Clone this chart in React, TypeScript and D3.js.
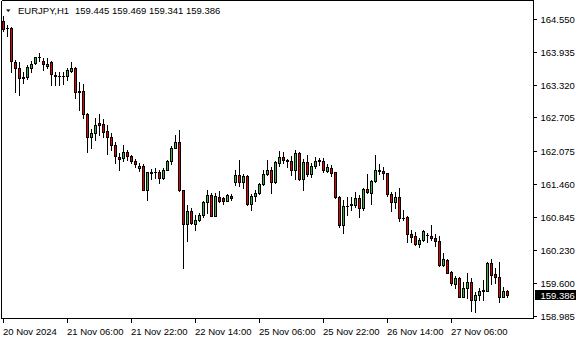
import React from "react";
import * as d3 from "d3";

const symbolLabel = "EURJPY,H1";

const opens = [
  164.513, 164.381, 164.372, 163.744, 163.623, 163.445, 163.454, 163.641, 163.726, 163.829,
  163.772, 163.660, 163.744, 163.510, 163.482, 163.476, 163.473, 163.585, 163.641, 163.192,
  163.192, 162.779, 162.348, 162.423, 162.592, 162.583, 162.452, 162.330, 162.180, 161.964,
  161.946, 162.058, 161.974, 161.889, 161.758, 161.796, 161.346, 161.664, 161.674, 161.683,
  161.571, 161.730, 161.880, 162.142, 162.251, 161.337, 160.709, 160.953, 160.709, 160.775,
  160.878, 161.112, 161.252, 160.859, 161.224, 161.187, 161.149, 161.234, 161.505, 161.627,
  161.505, 161.608, 161.084, 161.234, 161.284, 161.458, 161.646, 161.730, 161.487, 161.861,
  161.955, 161.899, 161.895, 161.721, 162.034, 161.546, 161.876, 161.646, 161.801, 161.899,
  161.895, 161.711, 161.753, 161.678, 161.209, 160.690, 161.046, 161.065, 161.065, 161.191,
  161.003, 161.359, 161.299, 161.515, 161.715, 161.702, 161.659, 161.265, 161.127, 161.209,
  160.827, 160.846, 160.516, 160.484, 160.328, 160.409, 160.512, 160.484, 160.441, 160.381,
  159.941, 160.034, 159.815, 159.585, 159.691, 159.347, 159.504, 159.628, 159.285, 159.379,
  159.448, 159.459, 159.973, 159.772, 159.710, 159.347, 159.445,
];
const highs = [
  164.606, 164.438, 164.391, 163.782, 163.744, 163.557, 163.679, 163.754, 163.847, 163.904,
  163.819, 163.810, 163.763, 163.557, 163.566, 163.566, 163.632, 163.744, 163.651, 163.370,
  163.341, 162.789, 162.498, 162.686, 162.779, 162.676, 162.564, 162.405, 162.245, 162.039,
  162.189, 162.095, 162.002, 161.936, 161.843, 161.833, 161.683, 161.739, 161.749, 161.721,
  161.749, 161.917, 162.170, 162.377, 162.470, 161.346, 161.065, 161.009, 160.878, 160.906,
  161.140, 161.355, 161.299, 161.299, 161.318, 161.224, 161.271, 161.280, 161.730, 161.908,
  161.655, 161.618, 161.280, 161.346, 161.472, 161.730, 161.908, 161.768, 161.880, 162.086,
  162.067, 161.936, 161.974, 162.095, 162.067, 161.936, 162.002, 161.846, 161.959, 161.940,
  161.940, 161.833, 161.814, 161.689, 161.234, 161.159, 161.209, 161.209, 161.314, 161.252,
  161.378, 161.640, 161.533, 162.002, 161.828, 161.783, 161.664, 161.303, 161.314, 161.378,
  160.971, 160.865, 160.597, 160.565, 160.441, 160.597, 160.535, 160.690, 160.522, 160.475,
  160.160, 160.048, 159.834, 159.735, 159.722, 159.628, 159.785, 159.691, 159.440, 159.504,
  159.660, 160.003, 160.048, 159.879, 160.003, 159.534, 159.469,
];
const lows = [
  164.325, 164.231, 163.557, 163.182, 163.126, 163.351, 163.435, 163.566, 163.707, 163.754,
  163.594, 163.641, 163.313, 163.313, 163.313, 163.323, 163.407, 163.557, 163.079, 162.836,
  162.695, 162.049, 162.133, 162.274, 162.377, 162.348, 162.021, 162.095, 161.852, 161.721,
  161.880, 161.908, 161.852, 161.777, 161.693, 161.337, 161.159, 161.552, 161.571, 161.477,
  161.552, 161.721, 161.833, 162.133, 161.327, 159.885, 160.381, 160.700, 160.597, 160.756,
  160.849, 160.924, 160.850, 160.850, 161.112, 161.084, 161.131, 161.159, 161.440, 161.412,
  161.383, 161.074, 160.962, 161.131, 161.271, 161.440, 161.627, 161.299, 161.477, 161.796,
  161.852, 161.786, 161.627, 161.552, 161.533, 161.337, 161.599, 161.584, 161.753, 161.814,
  161.689, 161.689, 161.608, 161.191, 160.647, 160.546, 160.878, 160.971, 161.033, 160.846,
  160.971, 161.290, 161.078, 161.502, 161.640, 161.552, 161.239, 160.953, 161.014, 160.765,
  160.784, 160.366, 160.366, 160.315, 160.284, 160.390, 160.377, 160.409, 160.297, 159.922,
  159.922, 159.791, 159.566, 159.504, 159.335, 159.335, 159.317, 159.084, 159.066, 159.285,
  159.285, 159.454, 159.585, 159.598, 159.253, 159.335, 159.341,
];
const closes = [
  164.363, 164.372, 163.754, 163.632, 163.445, 163.463, 163.651, 163.716, 163.829, 163.838,
  163.716, 163.716, 163.519, 163.473, 163.476, 163.482, 163.594, 163.641, 163.182, 163.182,
  162.770, 162.348, 162.423, 162.564, 162.555, 162.442, 162.339, 162.180, 161.974, 161.936,
  162.058, 161.974, 161.880, 161.833, 161.796, 161.355, 161.674, 161.683, 161.683, 161.571,
  161.730, 161.880, 162.142, 162.251, 161.337, 160.709, 160.958, 160.728, 160.784, 160.878,
  161.127, 161.252, 160.859, 161.234, 161.149, 161.131, 161.243, 161.187, 161.627, 161.505,
  161.608, 161.084, 161.234, 161.295, 161.458, 161.646, 161.730, 161.487, 161.876, 161.955,
  161.899, 161.895, 161.721, 162.034, 161.546, 161.876, 161.646, 161.796, 161.895, 161.895,
  161.721, 161.771, 161.670, 161.209, 160.690, 161.046, 161.041, 161.078, 161.191, 161.003,
  161.359, 161.303, 161.515, 161.721, 161.702, 161.659, 161.265, 161.127, 161.220, 160.816,
  160.821, 160.516, 160.471, 160.328, 160.409, 160.578, 160.503, 160.441, 160.390, 159.941,
  160.048, 159.796, 159.598, 159.691, 159.347, 159.504, 159.628, 159.285, 159.379, 159.459,
  159.472, 159.973, 159.753, 159.710, 159.347, 159.454, 159.386,
];

const priceTicks = [164.55, 163.935, 163.32, 162.705, 162.075, 161.46, 160.845, 160.23, 159.6, 158.985];
const priceTickLabels = ["164.550", "163.935", "163.320", "162.705", "162.075", "161.460", "160.845", "160.230", "159.600", "158.985"];

const timeLabelBars = [0, 16, 32, 48, 64, 80, 96, 112];
const timeLabels = ["20 Nov 2024", "21 Nov 06:00", "21 Nov 22:00", "22 Nov 14:00", "25 Nov 06:00", "25 Nov 22:00", "26 Nov 14:00", "27 Nov 06:00"];

const W = 580;
const H = 340;
const FONT = "'Liberation Sans', Arial, sans-serif";
const BULL = "#36b43c";
const BEAR = "#e80000";

export default function App() {
  const n = opens.length;
  const x = d3.scaleLinear().domain([0, n - 1]).range([3.5, 3.5 + 4 * (n - 1)]);
  const y = d3.scaleLinear().domain([158.985, 164.55]).range([316, 19]);

  const plotLeft = 1.5;
  const plotRight = 533.5;
  const plotTop = 0.5;
  const plotBottom = 318.5;

  const last = n - 1;
  const fmt = d3.format(".3f");
  const header = [opens[last], highs[last], lows[last], closes[last]].map(fmt).join(" ");
  const lastY = Math.round(y(closes[last]));

  return (
    <svg
      width={W}
      height={H}
      viewBox={`0 0 ${W} ${H}`}
      style={{ position: "absolute", left: 0, top: 0, background: "#fff", display: "block" }}
    >
      <rect x={0} y={0} width={W} height={H} fill="#fff" />
      {/* candles */}
      <g shapeRendering="crispEdges">
        {opens.map((o, i) => {
          const c = closes[i];
          const cx = x(i);
          const yh = Math.round(y(highs[i]));
          const yl = Math.round(y(lows[i]));
          const yt = Math.round(y(Math.max(o, c)));
          const yb = Math.round(y(Math.min(o, c)));
          const bh = yb - yt + 1;
          const col = c >= o ? BULL : BEAR;
          return (
            <g key={i}>
              <rect x={cx - 0.5} y={yh} width={1} height={yl - yh + 1} fill="#000" />
              <rect x={cx - 1.5} y={yt} width={3} height={bh} fill="#000" />
              {bh > 2 && <rect x={cx - 0.5} y={yt + 1} width={1} height={bh - 2} fill={col} />}
            </g>
          );
        })}
      </g>
      {/* frame */}
      <g shapeRendering="crispEdges" stroke="#000" strokeWidth={1} fill="none">
        <line x1={plotLeft} y1={plotTop} x2={plotLeft} y2={plotBottom} />
        <line x1={plotLeft} y1={plotTop} x2={plotRight} y2={plotTop} />
        <line x1={plotRight} y1={plotTop} x2={plotRight} y2={plotBottom} />
        <line x1={plotLeft} y1={plotBottom} x2={plotRight} y2={plotBottom} />
      </g>
      {/* price axis */}
      <g fontFamily={FONT} fontSize={9.5} fill="#000">
        {priceTicks.map((p, i) => {
          const yy = Math.round(y(p)) + 0.5;
          return (
            <g key={i}>
              <line x1={534} x2={537} y1={yy} y2={yy} stroke="#000" shapeRendering="crispEdges" />
              <text x={540.5} y={yy + 3.5}>{priceTickLabels[i]}</text>
            </g>
          );
        })}
        <rect x={535} y={lastY - 5} width={41} height={10} fill="#000" shapeRendering="crispEdges" />
        <text x={540.5} y={lastY + 3.5} fill="#fff">{fmt(closes[last])}</text>
      </g>
      {/* time axis */}
      <g fontFamily={FONT} fontSize={9.5} fill="#000">
        {timeLabelBars.map((b, i) => {
          const xx = x(b);
          return (
            <g key={i}>
              <line x1={xx} x2={xx} y1={319} y2={323} stroke="#000" shapeRendering="crispEdges" />
              <text x={xx - 0.5} y={335}>{timeLabels[i]}</text>
            </g>
          );
        })}
      </g>
      {/* header */}
      <g fontFamily={FONT} fontSize={9.5} fill="#000">
        <polygon points="6,9.5 10.5,9.5 8.25,12" fill="#000" />
        <text x={18} y={14}>{symbolLabel}</text>
        <text x={75} y={14}>{header}</text>
      </g>
    </svg>
  );
}
